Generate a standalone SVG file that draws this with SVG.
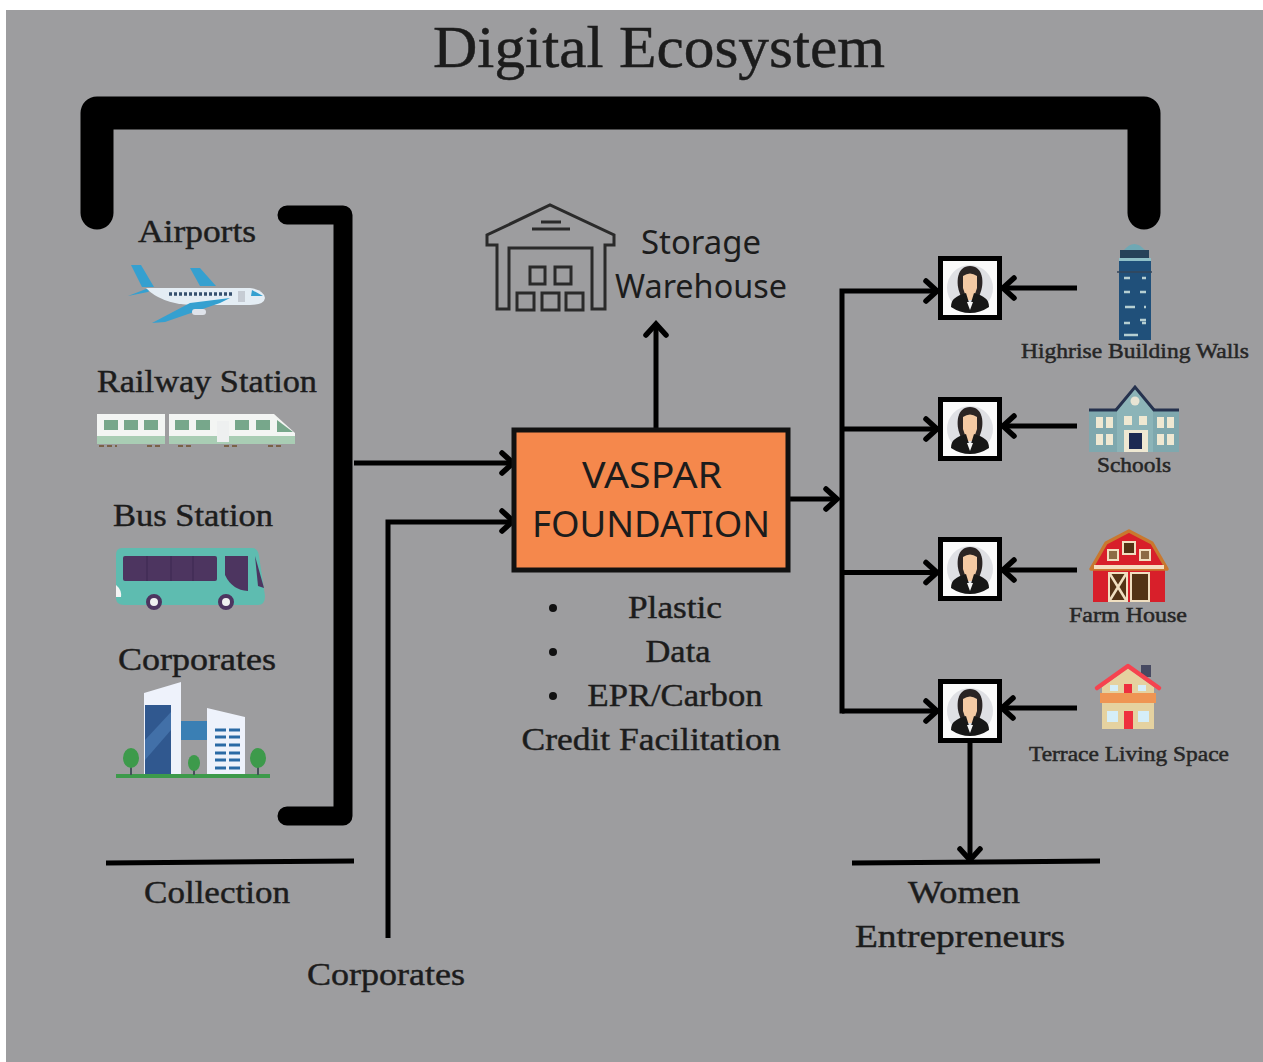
<svg xmlns="http://www.w3.org/2000/svg" width="1263" height="1062" viewBox="0 0 1263 1062">
<style>
.s{font-family:"Liberation Serif","DejaVu Serif",serif;fill:#1c1c1c;text-anchor:middle;stroke:#1c1c1c;stroke-width:.45}
.t{font-family:"Liberation Serif","DejaVu Serif",serif;fill:#262626;text-anchor:middle;stroke:#262626;stroke-width:.5;font-size:22px}
.p{font-family:"Noto Sans","Open Sans",sans-serif;fill:#1c1c1c;text-anchor:middle}
.l{fill:none;stroke:#000;stroke-width:5}
.head{fill:none;stroke:#000;stroke-width:5.5;stroke-linecap:round;stroke-linejoin:miter}
.br{fill:none;stroke:#000;stroke-linejoin:round;stroke-linecap:round}
.w{fill:none;stroke:#2a2a2a;stroke-width:3}
</style>
<defs>
<g id="avatar">
<rect x="-29.500" y="-29.500" width="59" height="59" fill="#fafafa" stroke="#000" stroke-width="5"/>
<circle cx="0" cy="0" r="23" fill="#dfe0e4"/>
<path d="M-11 3C-14-6-13-22 0-22S14-6 11 3L9 9H-9Z" fill="#2a2424"/>
<path d="M-7-12Q0-17 7-12V0L3 12H-3L-7 0Z" fill="#f3c9a4"/>
<path d="M-19 19C-19 11-14 8-4 5L0 18L4 5C14 8 19 11 19 19Q10 25 0 25T-19 19Z" fill="#171717"/>
<path d="M-3 14L0 22 3 14Z" fill="#f5f5f5"/>
</g>
<path id="ah" class="head" d="M-11-10L0 0L-11 10"/>
</defs>
<rect width="1263" height="1062" fill="#fff"/>
<rect x="6" y="10" width="1257" height="1052" fill="#9d9d9f"/>
<text class="s" x="659" y="67" font-size="59" textLength="452" lengthAdjust="spacingAndGlyphs">Digital Ecosystem</text>

<g id="connectors">
<path class="br" stroke-width="33" d="M97 213V113H1144V213"/>
<path class="br" stroke-width="19" d="M287 215H343V816H287"/>
<path class="l" d="M354 463H510"/><use href="#ah" x="513" y="463"/>
<path class="l" d="M388 938V522H510"/><use href="#ah" x="513" y="521"/>
<path class="l" d="M656 428V326"/><use href="#ah" transform="translate(656 324) rotate(-90)"/>
<path class="l" d="M790 499H836"/><use href="#ah" x="837" y="499"/>
<path class="l" d="M842 713.500V291H936"/><use href="#ah" x="937" y="291"/>
<path class="l" d="M842 429H936"/><use href="#ah" x="937" y="429"/>
<path class="l" d="M842 572.500H936"/><use href="#ah" x="937" y="572.500"/>
<path class="l" d="M842 711H936"/><use href="#ah" x="937" y="711"/>
<path class="l" d="M1077 288H1006"/><use href="#ah" transform="translate(1003 288) rotate(180)"/>
<path class="l" d="M1077 426H1006"/><use href="#ah" transform="translate(1003 426) rotate(180)"/>
<path class="l" d="M1077 570H1006"/><use href="#ah" transform="translate(1003 570) rotate(180)"/>
<path class="l" d="M1077 708H1006"/><use href="#ah" transform="translate(1002 708) rotate(180)"/>
<path class="l" d="M970 742V858"/><use href="#ah" transform="translate(970 860) rotate(90)"/>
<path class="l" d="M106 863L354 861"/>
<path class="l" d="M852 863L1100 861"/>
</g>

<g id="airports">
<text class="s" x="197" y="242" font-size="32" textLength="118" lengthAdjust="spacingAndGlyphs">Airports</text>
<path d="M131 265H141L154 287H142Z" fill="#35a0d0"/>
<path d="M190 268H200L216 286H200Z" fill="#35a0d0"/>
<path d="M128 296L146 289H152L148 292Z" fill="#35a0d0"/>
<path d="M146 288H250Q264 290 265 298Q264 305 250 305H190Q160 303 146 288Z" fill="#e4edf4"/>
<path d="M252 290L263 296H251Z" fill="#35a0d0"/>
<rect x="238" y="291" width="7" height="11" fill="#c6ccd4"/>
<path d="M169 294H234" stroke="#36506e" stroke-width="3.500" stroke-dasharray="3 2"/>
<path d="M152 323L190 303 230 298 220 303 165 322Z" fill="#35a0d0"/>
<rect x="192" y="309" width="14" height="6" rx="3" fill="#dfe3ea"/>
</g>

<g id="railway">
<text class="s" x="207" y="392" font-size="32" textLength="220" lengthAdjust="spacingAndGlyphs">Railway Station</text>
<rect x="97" y="414" width="68" height="22" fill="#f3f5f3"/>
<rect x="97" y="436" width="68" height="8" fill="#a9cdb4"/>
<path d="M169 414H274L295 433V444H169Z" fill="#f3f5f3"/>
<rect x="169" y="436" width="126" height="8" fill="#a9cdb4"/>
<g fill="#77a78b">
<rect x="104" y="420" width="14" height="10"/><rect x="124" y="420" width="14" height="10"/><rect x="144" y="420" width="14" height="10"/>
<rect x="175" y="420" width="14" height="10"/><rect x="196" y="420" width="14" height="10"/><rect x="235" y="420" width="14" height="10"/><rect x="256" y="420" width="14" height="10"/>
<path d="M277 420L293 432H277Z"/>
</g>
<rect x="217" y="421" width="12" height="21" fill="#eef0f0"/>
<path d="M99 446H117M147 446H163M178 446H192M224 446H238M268 446H284" stroke="#7a6248" stroke-width="2" stroke-dasharray="5 3"/>
</g>

<g id="bus">
<text class="s" x="193" y="526" font-size="32" textLength="160" lengthAdjust="spacingAndGlyphs">Bus Station</text>
<path d="M122 548H252Q258 548 259 556L265 596Q265 605 258 605H124Q116 605 116 598V555Q116 548 122 548Z" fill="#5ebcb0"/>
<rect x="123" y="556" width="94" height="25" rx="2" fill="#4d3560"/>
<path d="M147 556V581M171 556V581M193 556V581" stroke="#3d2850" stroke-width="1"/>
<path d="M225 556H248V591Q232 590 225 575Z" fill="#4d3560"/>
<path d="M255 556L264 588 258 586Z" fill="#4d3560"/>
<path d="M116 585Q122 590 121 597L116 597Z" fill="#f4f4f4"/>
<circle cx="154" cy="602" r="6" fill="#f0f0f0" stroke="#4d3560" stroke-width="4"/>
<circle cx="226" cy="602" r="6" fill="#f0f0f0" stroke="#4d3560" stroke-width="4"/>
</g>

<g id="corporates-item">
<text class="s" x="197" y="670" font-size="32" textLength="158" lengthAdjust="spacingAndGlyphs">Corporates</text>
<path d="M144 693L181 682V774H144Z" fill="#eef2fb"/>
<rect x="145" y="705" width="26" height="69" fill="#30588f"/>
<path d="M145 740L171 712V730L145 760Z" fill="#4270a8"/>
<rect x="181" y="721" width="27" height="19" fill="#3a7fb4"/>
<path d="M207 708L245 717V774H207Z" fill="#eef2fb"/>
<g stroke="#2a6aa5" stroke-width="3"><path d="M215 730H226M229 730H240M215 737H226M229 737H240M215 745H226M229 745H240M215 753H226M229 753H240M215 760H226M229 760H240M215 768H226M229 768H240"/></g>
<path d="M116 776H270" stroke="#3d9a4b" stroke-width="4"/>
<path d="M131 760V775M194 770V775M258 760V775" stroke="#45525a" stroke-width="2"/>
<ellipse cx="131" cy="758" rx="8" ry="10" fill="#3d9a4b"/><ellipse cx="194" cy="763" rx="6" ry="8" fill="#3d9a4b"/><ellipse cx="258" cy="758" rx="8" ry="10" fill="#3d9a4b"/>
</g>

<g id="warehouse">
<path class="w" d="M497 309V245H487V235L550 205L614 235V245H605V309H592V248H509V309Z"/>
<path class="w" d="M532 229H570M541 222H561"/>
<rect class="w" x="530" y="267" width="15" height="17"/><rect class="w" x="555" y="267" width="16" height="17"/>
<rect class="w" x="517" y="293" width="17" height="17"/><rect class="w" x="542" y="293" width="17" height="17"/><rect class="w" x="566" y="293" width="17" height="17"/>
<text class="p" x="701" y="254" font-size="32" textLength="120" lengthAdjust="spacingAndGlyphs">Storage</text>
<text class="p" x="701" y="298" font-size="32" textLength="172" lengthAdjust="spacingAndGlyphs">Warehouse</text>
</g>

<g id="vaspar">
<rect x="514" y="430" width="274" height="140" fill="#f5884c" stroke="#111" stroke-width="5"/>
<text class="p" x="652" y="488" font-size="36" textLength="140" lengthAdjust="spacingAndGlyphs">VASPAR</text>
<text class="p" x="651" y="537" font-size="36" textLength="238" lengthAdjust="spacingAndGlyphs">FOUNDATION</text>
</g>

<g id="vaspar-list">
<g fill="#111"><circle cx="553" cy="608" r="4"/><circle cx="553" cy="652" r="4"/><circle cx="553" cy="696" r="4"/></g>
<text class="s" x="675" y="618" font-size="32" textLength="94" lengthAdjust="spacingAndGlyphs">Plastic</text>
<text class="s" x="678" y="662" font-size="32" textLength="65" lengthAdjust="spacingAndGlyphs">Data</text>
<text class="s" x="675" y="706" font-size="32" textLength="175" lengthAdjust="spacingAndGlyphs">EPR/Carbon</text>
<text class="s" x="651" y="750" font-size="32" textLength="259" lengthAdjust="spacingAndGlyphs">Credit Facilitation</text>
</g>

<g id="woman-1"><use href="#avatar" x="970" y="288"/></g>
<g id="woman-2"><use href="#avatar" x="970" y="429"/></g>
<g id="woman-3"><use href="#avatar" x="970" y="569"/></g>
<g id="woman-4"><use href="#avatar" x="970" y="711"/></g>

<g id="highrise">
<path d="M1124 250Q1134 238 1145 250Z" fill="#6fa8b4"/>
<rect x="1120" y="250" width="29" height="8" fill="#26425a"/>
<rect x="1119" y="258" width="32" height="82" fill="#20507a"/>
<rect x="1119" y="258" width="32" height="3" fill="#8fc0c8"/>
<path d="M1117 272H1152" stroke="#34465a" stroke-width="1.500"/>
<path d="M1124 278H1130M1142 278H1146M1124 292H1130M1140 292H1146M1125 307H1135M1144 307H1146M1124 323H1130M1142 323H1146M1124 335H1138M1140 320H1146" stroke="#b6cfd2" stroke-width="2.400"/>
<text class="t" x="1135" y="358" textLength="228" lengthAdjust="spacingAndGlyphs">Highrise Building Walls</text>
</g>

<g id="schools">
<path d="M1089 410H1179V452H1089Z" fill="#7fa8ae"/>
<path d="M1089 410H1118M1150 410H1179" stroke="#26324e" stroke-width="3"/>
<path d="M1117 410L1135 387 1153 410V452H1117Z" fill="#8cb4b8"/>
<path d="M1116 410L1135 387 1154 410" fill="none" stroke="#26324e" stroke-width="3"/>
<circle cx="1135" cy="401" r="4.500" fill="#e8e4d4"/>
<path d="M1096 417H1103V428H1096ZM1106 417H1113V428H1106ZM1096 434H1103V445H1096ZM1106 434H1113V445H1106ZM1157 417H1164V428H1157ZM1167 417H1174V428H1167ZM1157 434H1164V445H1157ZM1167 434H1174V445H1167ZM1124 416H1132V425H1124ZM1139 416H1147V425H1139Z" fill="#efe8d2"/>
<rect x="1124" y="430" width="24" height="22" fill="#efe8d2"/>
<rect x="1129" y="433" width="13" height="16" fill="#1d2a52"/>
<text class="t" x="1134" y="472" textLength="74" lengthAdjust="spacingAndGlyphs">Schools</text>
</g>

<g id="farmhouse">
<rect x="1093" y="570" width="72" height="32" fill="#d81f2a"/>
<path d="M1091 569L1106 543 1129 531 1152 543 1167 569Z" fill="#d81f2a" stroke="#c9782e" stroke-width="3.500" stroke-linejoin="round"/>
<rect x="1094" y="565" width="70" height="4" fill="#f6ddc0"/>
<rect x="1123" y="542" width="12" height="12" fill="#533315" stroke="#f0dfc0" stroke-width="2"/>
<rect x="1108" y="550" width="10" height="10" fill="#8d6b45" stroke="#f0dfc0" stroke-width="2"/>
<rect x="1140" y="550" width="10" height="10" fill="#8d6b45" stroke="#f0dfc0" stroke-width="2"/>
<rect x="1109" y="573" width="18" height="28" fill="#533315" stroke="#f0dfc0" stroke-width="2"/>
<path d="M1110 574L1126 600M1126 574L1110 600" stroke="#f0dfc0" stroke-width="2.500"/>
<rect x="1131" y="573" width="18" height="28" fill="#533315" stroke="#f0dfc0" stroke-width="2"/>
<text class="t" x="1128" y="622" textLength="118" lengthAdjust="spacingAndGlyphs">Farm House</text>
</g>

<g id="terrace">
<rect x="1141" y="665" width="10" height="12" fill="#474a62"/>
<path d="M1102 687L1128 668 1154 687V729H1102Z" fill="#e5d2a0"/>
<path d="M1097 688L1128 666 1159 688" fill="none" stroke="#f6434f" stroke-width="4.500" stroke-linecap="round" stroke-linejoin="round"/>
<rect x="1100" y="693" width="56" height="10" fill="#ef9553"/>
<rect x="1124" y="684" width="8" height="9" fill="#ee2f3e"/>
<rect x="1124" y="711" width="9" height="18" fill="#ee2f3e"/>
<path d="M1107 711H1118V722H1107ZM1138 711H1149V722H1138ZM1110 685H1118V691H1110ZM1138 685H1146V691H1138Z" fill="#d5eef8"/>
<text class="t" x="1129" y="761" textLength="200" lengthAdjust="spacingAndGlyphs">Terrace Living Space</text>
</g>

<g id="labels">
<text class="s" x="217" y="903" font-size="32" textLength="146" lengthAdjust="spacingAndGlyphs">Collection</text>
<text class="s" x="386" y="985" font-size="32" textLength="158" lengthAdjust="spacingAndGlyphs">Corporates</text>
<text class="s" x="964" y="903" font-size="32" textLength="112" lengthAdjust="spacingAndGlyphs">Women</text>
<text class="s" x="960" y="947" font-size="32" textLength="210" lengthAdjust="spacingAndGlyphs">Entrepreneurs</text>
</g>
</svg>
